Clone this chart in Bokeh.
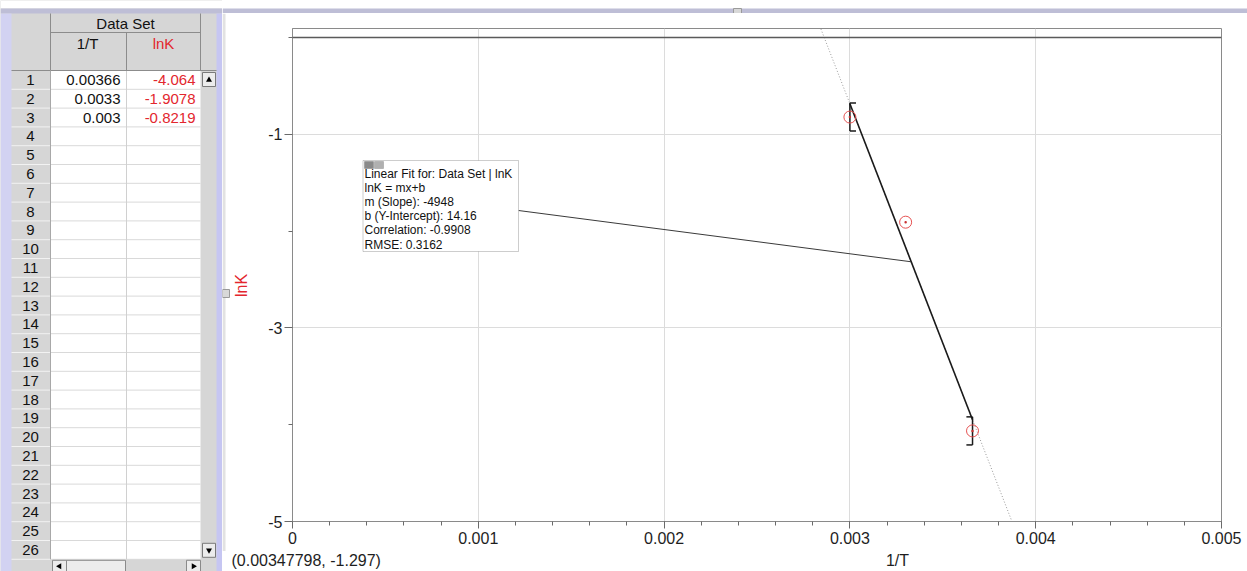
import math
from bokeh.plotting import figure
from bokeh.layouts import row, column
from bokeh.models import Range1d, FixedTicker, CustomJSTickFormatter, Label, BoxAnnotation, Span
from bokeh.core.properties import value
from bokeh.embed import file_html
from bokeh.resources import INLINE

# ---------------- data ----------------
inv_T = [0.00366, 0.0033, 0.003]
lnK = [-4.064, -1.9078, -0.8219]
inv_T_text = ["0.00366", "0.0033", "0.003"]
lnK_text = ["-4.064", "-1.9078", "-0.8219"]
row_numbers = list(range(1, 27))

fit_slope = -4948
fit_intercept = 14.16
fit_correlation = -0.9908
fit_rmse = 0.3162
fit_point_x = 0.00333          # where the fit-box leader meets the line

x_ticks = [0, 0.001, 0.002, 0.003, 0.004, 0.005]
x_minor = [round(i * 0.0002, 4) for i in range(26)]
y_ticks = [-5, -3, -1]
y_minor = [-4, -2, 0]
x_title = "1/T"
y_title = "lnK"
cursor_text = "(0.00347798, -1.297)"

FONT = "Liberation Sans"
RED = "#e3262e"
W, H = 1247, 571
TW = 222                 # table panel width
LW = 262                 # page x where the graph figure starts
TOP_H = 13               # top chrome strip height
BOT_Y = 551              # page y where the bottom read-out strip starts

def strip(x0, x1, y0, y1, bg, flip=True):
    yr = Range1d(y1, y0) if flip else Range1d(-y1, -y0)
    f = figure(width=x1 - x0, height=y1 - y0, x_range=Range1d(x0, x1), y_range=yr,
               x_axis_type=None, y_axis_type=None, toolbar_location=None,
               output_backend="svg", min_border=0, outline_line_color=None,
               background_fill_color=bg, border_fill_color=bg, frame_align=False)
    return f

# ---------------- data table (left panel) ----------------
t = strip(0, TW, 0, H, "#d6d6d6")

HDR_TOP, HDR_BOT = 13, 70
ROW_H = 18.8
n_rows = len(row_numbers)
tbl_bottom = HDR_BOT + ROW_H * n_rows
row_top = [HDR_BOT + ROW_H * i for i in range(n_rows)]
row_mid = [r + ROW_H / 2 for r in row_top]

t.quad(left=[0], right=[TW], top=[0], bottom=[8], fill_color="white", line_color=None)
t.quad(left=[0], right=[TW], top=[8], bottom=[13], fill_color="#bebed6", line_color=None)
t.quad(left=[0], right=[11], top=[13], bottom=[H], fill_color="#d2d2f2", line_color=None)
t.quad(left=[216], right=[TW], top=[13], bottom=[H], fill_color="#c6c6f2", line_color=None)
t.quad(left=[50], right=[200], top=[HDR_BOT], bottom=[tbl_bottom], fill_color="white", line_color=None)
t.segment(x0=[50] * n_rows, x1=[200] * n_rows, y0=[r + ROW_H for r in row_top],
          y1=[r + ROW_H for r in row_top], line_color="#d9d9d9", line_width=1)
t.segment(x0=[11] * n_rows, x1=[50] * n_rows, y0=[r + ROW_H for r in row_top],
          y1=[r + ROW_H for r in row_top], line_color="#f2f2f2", line_width=1)
t.segment(x0=[126], x1=[126], y0=[HDR_BOT], y1=[tbl_bottom], line_color="#d0d0d0")
t.segment(x0=[50, 50, 200, 126, 11], x1=[200, 50, 200, 126, 216],
          y0=[32, HDR_TOP, HDR_TOP, 32, HDR_BOT], y1=[32, HDR_BOT, HDR_BOT, HDR_BOT, HDR_BOT],
          line_color="#8c8c8c", line_width=1)
t.segment(x0=[50], x1=[50], y0=[HDR_BOT], y1=[tbl_bottom], line_color="#a8a8a8")
t.quad(left=[202, 202], right=[215, 215], top=[72, tbl_bottom - 16], bottom=[86, tbl_bottom - 2],
       fill_color="#ececec", line_color="#7a7a7a")
t.scatter(x=[208.5], y=[79.5], marker="triangle", size=6, fill_color="black", line_color=None)
t.scatter(x=[208.5], y=[tbl_bottom - 9], marker="inverted_triangle", size=6,
          fill_color="black", line_color=None)
t.quad(left=[52, 66, 186], right=[66, 125, 200], top=[tbl_bottom + 1] * 3, bottom=[H + 2] * 3,
       fill_color="#ececec", line_color="#8a8a8a")
t.scatter(x=[59], y=[tbl_bottom + 7], marker="triangle", angle=1.5708, size=6,
          fill_color="black", line_color=None)
t.scatter(x=[193], y=[tbl_bottom + 7], marker="triangle", angle=-1.5708, size=6,
          fill_color="black", line_color=None)

t.text(x=[125], y=[23], text=["Data Set"], text_font=value(FONT), text_font_size="15px",
       text_align="center", text_baseline="middle", text_color="#111")
t.text(x=[87, 163], y=[43, 43], text=["1/T", "lnK"], text_font=value(FONT), text_font_size="15px",
       text_align="center", text_baseline="middle", text_color=["#111", RED])
t.text(x=[30] * n_rows, y=row_mid, text=[str(n) for n in row_numbers], text_font=value(FONT),
       text_font_size="15px", text_align="center", text_baseline="middle", text_color="#111")
t.text(x=[120] * len(inv_T), y=row_mid[:len(inv_T)], text=inv_T_text, text_font=value(FONT),
       text_font_size="15px", text_align="right", text_baseline="middle", text_color="#111")
t.text(x=[195] * len(lnK), y=row_mid[:len(lnK)], text=lnK_text, text_font=value(FONT),
       text_font_size="15px", text_align="right", text_baseline="middle", text_color=RED)

# ---------------- top chrome strip ----------------
top = strip(TW, W, 0, TOP_H, "white")
top.quad(left=[TW], right=[W], top=[8], bottom=[TOP_H], fill_color="#bebed6", line_color=None)
top.quad(left=[733], right=[741], top=[8], bottom=[TOP_H + 1], fill_color="#d8d8d8",
         line_color="#9a9a9a")

# ---------------- left strip with the y title ----------------
left = strip(TW, LW, TOP_H, BOT_Y, "white", flip=False)
left.quad(left=[TW], right=[TW + 3], top=[-TOP_H], bottom=[-BOT_Y], fill_color="#e2e2e2",
          line_color=None)
left.quad(left=[TW], right=[TW + 7], top=[-289], bottom=[-297], fill_color="#d8d8d8",
          line_color="#9a9a9a")
left.text(x=[241], y=[-285], text=[y_title], angle=math.pi / 2, text_font=value(FONT),
          text_font_size="16px", text_align="center", text_baseline="middle", text_color=RED)

# ---------------- graph ----------------
X0, X1 = 0.0, 0.005
Y0, Y1 = -5.0, 0.093
FX0, FX1, FY0, FY1 = 292.0, 1221.0, 28.0, 521.0   # frame edges in page pixels
p = figure(width=W - LW, height=BOT_Y - TOP_H, x_range=Range1d(X0, X1), y_range=Range1d(Y0, Y1),
           toolbar_location=None, output_backend="svg",
           min_border_left=int(FX0 - LW), min_border_right=int(W - FX1),
           min_border_top=int(FY0 - TOP_H), min_border_bottom=int(BOT_Y - FY1),
           background_fill_color="white", border_fill_color="white",
           frame_align=False)

def dx(px):
    return X0 + (px - FX0) / (FX1 - FX0) * (X1 - X0)
def dy(py):
    return Y1 - (py - FY0) / (FY1 - FY0) * (Y1 - Y0)

fmt = CustomJSTickFormatter(code="return String(+tick.toFixed(6));")
p.xaxis.ticker = FixedTicker(ticks=x_ticks, minor_ticks=x_minor)
p.yaxis.ticker = FixedTicker(ticks=y_ticks, minor_ticks=y_minor)
p.xaxis.formatter = fmt
p.yaxis.formatter = fmt
for ax in (p.xaxis, p.yaxis):
    ax.major_label_text_font = FONT
    ax.major_label_text_font_size = "16px"
    ax.major_label_text_color = "#1e1e1e"
    ax.axis_line_color = "#8a8a8a"
    ax.major_tick_line_color = "#6a6a6a"
    ax.minor_tick_line_color = "#6a6a6a"
    ax.major_tick_in = 0
    ax.minor_tick_in = 0
    ax.minor_tick_out = 4
p.xaxis.major_tick_out = 7
p.yaxis.major_tick_out = 8
p.xaxis.major_label_standoff = 3
p.yaxis.major_label_standoff = 2
p.grid.grid_line_color = "#dcdcdc"
p.outline_line_color = "#8a8a8a"

p.add_layout(Span(location=0, dimension="width", line_color="#5a5a5a", line_width=1.5))

# fit line: dotted over the whole range, solid over the fitted region
xf0, xf1 = min(inv_T), max(inv_T)
p.line(x=[X0, X1], y=[fit_slope * X0 + fit_intercept, fit_slope * X1 + fit_intercept],
       line_color="#9a9a9a", line_width=1, line_dash="1 2")
p.line(x=[xf0, xf1], y=[fit_slope * xf0 + fit_intercept, fit_slope * xf1 + fit_intercept],
       line_color="#1a1a1a", line_width=1.6)

# region brackets
ylo = lnK[inv_T.index(xf0)]
yhi = lnK[inv_T.index(xf1)]
bh = 0.145
bt = 0.000033
p.segment(x0=[xf0, xf0, xf0, xf1, xf1, xf1],
          x1=[xf0, xf0 + bt, xf0 + bt, xf1, xf1 - bt, xf1 - bt],
          y0=[ylo - bh, ylo + bh, ylo - bh, yhi - bh, yhi + bh, yhi - bh],
          y1=[ylo + bh, ylo + bh, ylo - bh, yhi + bh, yhi + bh, yhi - bh],
          line_color="#1a1a1a", line_width=1.5)

# data points
p.scatter(x=inv_T, y=lnK, marker="circle", size=12, fill_color=None,
          line_color="#e65252", line_width=1)
p.scatter(x=inv_T, y=lnK, marker="circle", size=2.5, fill_color="#c83030", line_color=None)

# leader line from fit box to fit line
p.segment(x0=[dx(518)], y0=[dy(210)], x1=[fit_point_x],
          y1=[fit_slope * fit_point_x + fit_intercept], line_color="#3a3a3a", line_width=1)

# fit info box
p.add_layout(BoxAnnotation(left=dx(362.5), right=dx(518), top=dy(160), bottom=dy(251),
                           fill_color="white", fill_alpha=1, line_color="#5a5a5a", line_width=1))
p.add_layout(BoxAnnotation(left=dx(364), right=dx(373), top=dy(161), bottom=dy(168),
                           fill_color="#8a8a8a", fill_alpha=1, line_color="#555", line_width=1))
p.add_layout(BoxAnnotation(left=dx(374), right=dx(383), top=dy(161), bottom=dy(168),
                           fill_color="#b0b0b0", fill_alpha=1, line_color="#666", line_width=1))
fit_lines = [
    "Linear Fit for: Data Set | lnK",
    "lnK = mx+b",
    f"m (Slope): {fit_slope}",
    f"b (Y-Intercept): {fit_intercept}",
    f"Correlation: {fit_correlation}",
    f"RMSE: {fit_rmse}",
]
for i, s in enumerate(fit_lines):
    p.add_layout(Label(x=dx(364), y=dy(173 + 14.2 * i), text=s, text_font=FONT,
                       text_font_size="12px", text_color="#111",
                       text_baseline="middle", text_align="left"))

# ---------------- bottom read-out strip ----------------
bot = strip(TW, W, BOT_Y, H, "white")
bot.text(x=[231], y=[559.5], text=[cursor_text], text_font=value(FONT), text_font_size="16px",
         text_align="left", text_baseline="middle", text_color="#1e1e1e")
bot.text(x=[897], y=[560], text=[x_title], text_font=value(FONT), text_font_size="16px",
         text_align="center", text_baseline="middle", text_color="#1e1e1e")

layout = row(t, column(top, row(left, p, spacing=0), bot, spacing=0), spacing=0)
open("out.html", "w").write(file_html(layout, INLINE))
